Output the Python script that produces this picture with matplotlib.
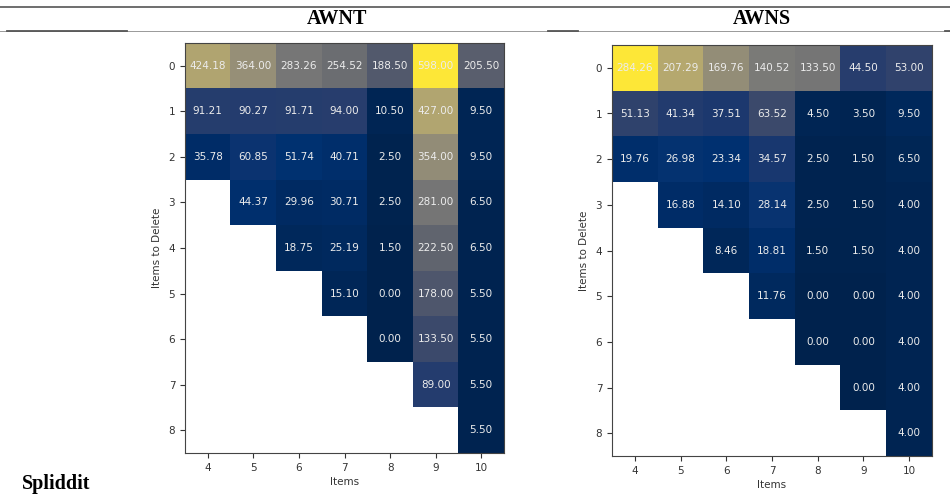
import numpy as np
import matplotlib
matplotlib.use("Agg")
import matplotlib.pyplot as plt
from matplotlib.lines import Line2D

items = [4, 5, 6, 7, 8, 9, 10]
deletes = [0, 1, 2, 3, 4, 5, 6, 7, 8]
nan = np.nan

awnt = [
    [424.18, 364.00, 283.26, 254.52, 188.50, 598.00, 205.50],
    [91.21, 90.27, 91.71, 94.00, 10.50, 427.00, 9.50],
    [35.78, 60.85, 51.74, 40.71, 2.50, 354.00, 9.50],
    [nan, 44.37, 29.96, 30.71, 2.50, 281.00, 6.50],
    [nan, nan, 18.75, 25.19, 1.50, 222.50, 6.50],
    [nan, nan, nan, 15.10, 0.00, 178.00, 5.50],
    [nan, nan, nan, nan, 0.00, 133.50, 5.50],
    [nan, nan, nan, nan, nan, 89.00, 5.50],
    [nan, nan, nan, nan, nan, nan, 5.50],
]

awns = [
    [284.26, 207.29, 169.76, 140.52, 133.50, 44.50, 53.00],
    [51.13, 41.34, 37.51, 63.52, 4.50, 3.50, 9.50],
    [19.76, 26.98, 23.34, 34.57, 2.50, 1.50, 6.50],
    [nan, 16.88, 14.10, 28.14, 2.50, 1.50, 4.00],
    [nan, nan, 8.46, 18.81, 1.50, 1.50, 4.00],
    [nan, nan, nan, 11.76, 0.00, 0.00, 4.00],
    [nan, nan, nan, nan, 0.00, 0.00, 4.00],
    [nan, nan, nan, nan, nan, 0.00, 4.00],
    [nan, nan, nan, nan, nan, nan, 4.00],
]

titles = ["AWNT", "AWNS"]
row_label = "Spliddit"

W, H = 950, 494
fig = plt.figure(figsize=(W / 100, H / 100), dpi=100)


def px_rect(x0, y0, x1, y1):
    return [x0 / W, 1 - y1 / H, (x1 - x0) / W, (y1 - y0) / H]


def draw(ax, data):
    arr = np.ma.masked_invalid(np.array(data, dtype=float))
    ax.imshow(arr, cmap="cividis", aspect="auto", interpolation="nearest")
    for i in range(arr.shape[0]):
        for j in range(arr.shape[1]):
            if not np.ma.is_masked(arr[i, j]):
                ax.text(j, i, f"{arr[i, j]:.2f}", ha="center", va="center",
                        color="#ececec", fontsize=7.5)
    ax.set_xticks(range(len(items)))
    ax.set_xticklabels([str(v) for v in items])
    ax.set_yticks(range(len(deletes)))
    ax.set_yticklabels([str(v) for v in deletes])
    ax.tick_params(labelsize=7.5, colors="#333333", length=3.5)
    for s in ax.spines.values():
        s.set_color("#444444")
        s.set_linewidth(0.8)
    ax.set_xlabel("Items", fontsize=7.5, color="#333333", labelpad=3)
    ax.set_ylabel("Items to Delete", fontsize=7.5, color="#333333", labelpad=5)


ax1 = fig.add_axes(px_rect(185, 43, 504, 453))
draw(ax1, awnt)
ax2 = fig.add_axes(px_rect(612, 45, 932, 456))
draw(ax2, awns)

serif = ["Liberation Serif", "DejaVu Serif"]
fig.text(337 / W, 1 - 19 / H, titles[0], ha="center", va="center",
         fontsize=14.5, fontweight="bold", family=serif)
fig.text(762 / W, 1 - 19 / H, titles[1], ha="center", va="center",
         fontsize=14.5, fontweight="bold", family=serif)
fig.text(22 / W, 1 - 484 / H, row_label, ha="left", va="center",
         fontsize=14.5, fontweight="bold", family=serif)

# table rules
fig.add_artist(Line2D([0, 1], [1 - 7 / H] * 2, transform=fig.transFigure,
                      color="#555555", lw=1.2))
fig.add_artist(Line2D([0, 1], [1 - 31.5 / H] * 2, transform=fig.transFigure,
                      color="#999999", lw=0.7))
for xa, xb in [(7, 127), (548, 578), (945, 950)]:
    fig.add_artist(Line2D([xa / W, xb / W], [1 - 31.5 / H] * 2,
                          transform=fig.transFigure, color="#555555", lw=1.3))

fig.savefig("out.png", dpi=100)
